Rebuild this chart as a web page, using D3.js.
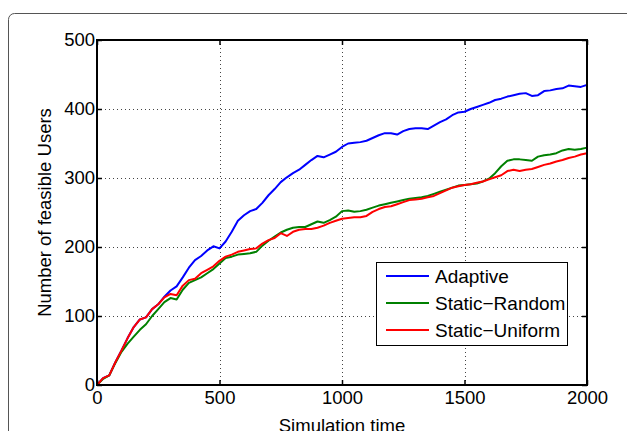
<!DOCTYPE html>
<html>
<head>
<meta charset="utf-8">
<script src="https://cdn.jsdelivr.net/npm/d3@7"></script>
<style>
  html, body { margin: 0; padding: 0; background: #fff; }
  svg { display: block; }
  text { font-family: "Liberation Sans", Arial, Helvetica, sans-serif; fill: #000; }
</style>
</head>
<body>
<svg id="chart" width="627" height="431"></svg>
<script>
// ---- Data ----
const times = d3.range(0, 2001, 25);

const adaptive = [0,10,14,33,50,68,84,95,98,110,117,128,137,143,156,170,181,187,195,201,
  198,208,222,238,246,252,255,264,275,284,294,301,307,312,319,326,332,330,334,338,
  345,350,351,352,354,358,362,365,365,363,368,371,372,372,371,376,381,385,391,395,
  396,400,403,406,409,413,415,418,420,422,423,419,420,426,427,429,430,434,433,432,435];

const staticRandom = [0,9,14,32,48,60,70,80,88,100,110,120,126,124,138,148,152,156,162,168,
  176,184,186,189,190,191,193,202,209,215,221,225,228,229,229,233,237,235,239,244,
  252,253,251,252,254,257,260,262,264,266,268,270,271,272,274,277,280,283,286,289,
  290,291,292,295,299,307,317,325,327,327,326,325,331,333,334,336,340,342,341,342,344];

const staticUniform = [0,10,14,33,50,68,84,95,98,110,117,127,132,130,144,152,154,162,167,172,
  180,186,189,193,195,197,198,205,210,213,220,216,222,225,226,226,228,231,235,238,
  241,242,243,243,245,251,255,258,259,262,265,268,269,270,272,274,278,282,286,288,
  290,291,293,295,298,301,304,310,312,310,312,313,316,319,321,324,326,329,331,334,336];

const seriesNames = ["Adaptive", "Static\u2212Random", "Static\u2212Uniform"];
const seriesColors = ["#0000ff", "#008000", "#ff0000"];
const seriesValues = [adaptive, staticRandom, staticUniform];

const xTicks = [0, 500, 1000, 1500, 2000];
const yTicks = [0, 100, 200, 300, 400, 500];
const xLabel = "Simulation time";
const yLabel = "Number of feasible Users";

// ---- Layout ----
const svg = d3.select("#chart");
const pL = 97, pR = 587, pT = 40, pB = 385;
const fs = 18.5;

const x = d3.scaleLinear().domain([0, 2000]).range([pL, pR]);
const y = d3.scaleLinear().domain([0, 500]).range([pB, pT]);

// figure frame (rounded border)
svg.append("rect")
  .attr("x", 8.5).attr("y", 13.5)
  .attr("width", 700).attr("height", 500)
  .attr("rx", 6).attr("ry", 6)
  .attr("fill", "none").attr("stroke", "#555").attr("stroke-width", 1);

// grid
const grid = svg.append("g");
grid.selectAll(".gx").data(xTicks.slice(1, -1)).enter().append("line")
  .attr("x1", d => Math.round(x(d)) + 0.5).attr("x2", d => Math.round(x(d)) + 0.5)
  .attr("y1", pT).attr("y2", pB)
  .attr("stroke", "#444").attr("stroke-width", 1).attr("stroke-dasharray", "1,3");
grid.selectAll(".gy").data(yTicks.slice(1, -1)).enter().append("line")
  .attr("y1", d => Math.round(y(d)) + 0.5).attr("y2", d => Math.round(y(d)) + 0.5)
  .attr("x1", pL).attr("x2", pR)
  .attr("stroke", "#444").attr("stroke-width", 1).attr("stroke-dasharray", "1,3");

// lines
const line = d3.line().x((d, i) => x(times[i])).y(d => y(d));
seriesValues.forEach((vals, k) => {
  svg.append("path")
    .datum(vals)
    .attr("d", line)
    .attr("fill", "none")
    .attr("stroke", seriesColors[k])
    .attr("stroke-width", 2)
    .attr("stroke-linejoin", "round");
});

// axes (MATLAB style: inward ticks on all sides)
const tickLen = 5;
const fmt = d3.format("d");
const axB = svg.append("g").attr("transform", `translate(0,${pB})`)
  .call(d3.axisBottom(x).tickValues(xTicks).tickFormat(fmt).tickSizeInner(-tickLen).tickSizeOuter(0).tickPadding(6));
const axT = svg.append("g").attr("transform", `translate(0,${pT})`)
  .call(d3.axisTop(x).tickValues(xTicks).tickFormat("").tickSizeInner(-tickLen).tickSizeOuter(0));
const axL = svg.append("g").attr("transform", `translate(${pL},0)`)
  .call(d3.axisLeft(y).tickValues(yTicks).tickFormat(fmt).tickSizeInner(-tickLen).tickSizeOuter(0).tickPadding(2));
const axR = svg.append("g").attr("transform", `translate(${pR},0)`)
  .call(d3.axisRight(y).tickValues(yTicks).tickFormat("").tickSizeInner(-tickLen).tickSizeOuter(0));

[axB, axT, axL, axR].forEach(a => {
  a.select(".domain").remove();
  a.selectAll(".tick line").attr("stroke", "#000").attr("stroke-width", 1.5);
  a.selectAll(".tick text").style("font-size", fs + "px").attr("fill", "#000");
});
axB.selectAll(".tick text").attr("dy", "0.71em");

// box
svg.append("rect")
  .attr("x", pL).attr("y", pT)
  .attr("width", pR - pL).attr("height", pB - pT)
  .attr("fill", "none").attr("stroke", "#000").attr("stroke-width", 2);

// axis labels
svg.append("text")
  .attr("x", (pL + pR) / 2).attr("y", 432)
  .attr("text-anchor", "middle").style("font-size", fs + "px")
  .text(xLabel);
svg.append("text")
  .attr("transform", `translate(51,${(pT + pB) / 2}) rotate(-90)`)
  .attr("text-anchor", "middle").style("font-size", fs + "px")
  .text(yLabel);

// legend
const lg = svg.append("g");
const lx = 376, ly = 262, lw = 191, lh = 83;
lg.append("rect")
  .attr("x", lx + 0.5).attr("y", ly + 0.5).attr("width", lw).attr("height", lh)
  .attr("fill", "#fff").attr("stroke", "#000").attr("stroke-width", 1);
seriesNames.forEach((name, k) => {
  const yy = ly + 14 + k * 27;
  lg.append("line")
    .attr("x1", lx + 10).attr("x2", lx + 53)
    .attr("y1", yy).attr("y2", yy)
    .attr("stroke", seriesColors[k]).attr("stroke-width", 2);
  lg.append("text")
    .attr("x", lx + 59).attr("y", yy)
    .attr("dy", "0.35em").style("font-size", "19px")
    .text(name);
});
</script>
</body>
</html>
